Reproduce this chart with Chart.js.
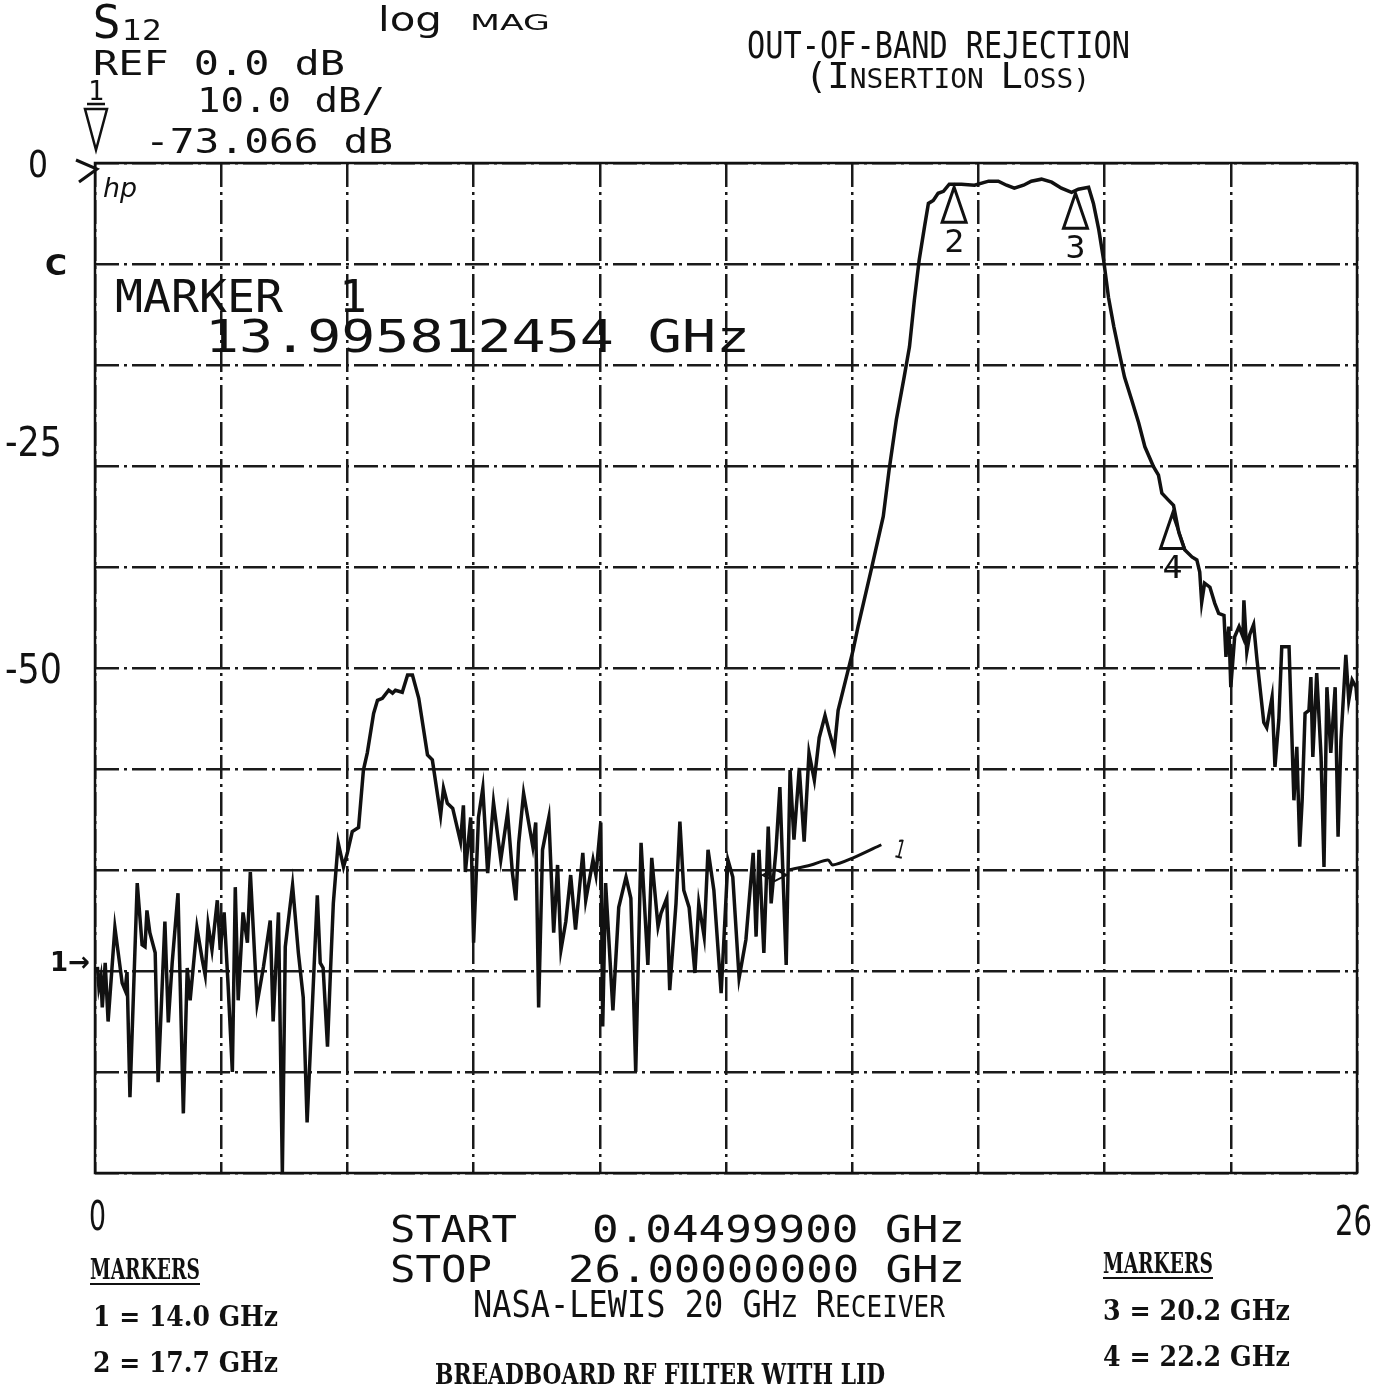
<!DOCTYPE html>
<html lang="en">
<head>
<meta charset="UTF-8">
<title>S12 log MAG - Out-of-band rejection</title>
<script src="https://cdn.jsdelivr.net/npm/chart.js"></script>
<style>
    body {
        margin: 0;
        padding: 0;
        background: #fff;
    }
    #wrap {
        width: 1375px;
        height: 1389px;
    }
</style>
</head>
<body>
<div id="wrap"><canvas id="s12Chart" width="1375" height="1389"></canvas></div>
<script>
// sweep points (GHz / dB)
const freqGHz = [
    0.05,0.08,0.12,0.15,0.21,0.27,0.41,0.56,0.62,0.66,
    0.72,0.87,0.97,1.03,1.07,1.13,1.24,1.30,1.44,1.51,
    1.59,1.71,1.82,1.90,1.96,2.10,2.21,2.27,2.33,2.41,
    2.52,2.58,2.66,2.74,2.83,2.89,2.95,3.05,3.14,3.20,
    3.34,3.47,3.61,3.67,3.78,3.86,3.92,4.07,4.19,4.29,
    4.37,4.58,4.64,4.70,4.79,4.85,4.91,5.01,5.12,5.20,
    5.30,5.43,5.53,5.61,5.74,5.82,5.92,6.05,6.13,6.19,
    6.33,6.44,6.54,6.67,6.85,6.95,7.12,7.18,7.26,7.37,
    7.53,7.59,7.63,7.74,7.80,7.90,7.99,8.09,8.21,8.36,
    8.50,8.60,8.67,8.73,8.83,9.02,9.08,9.14,9.22,9.35,
    9.45,9.53,9.60,9.70,9.80,9.90,10.05,10.11,10.26,10.32,
    10.42,10.46,10.52,10.67,10.79,10.94,11.04,11.14,11.25,11.39,
    11.47,11.60,11.66,11.78,11.84,11.97,12.05,12.13,12.24,12.36,
    12.44,12.55,12.63,12.75,12.90,12.96,13.04,13.14,13.27,13.41,
    13.56,13.62,13.68,13.78,13.87,13.93,14.03,14.11,14.24,14.32,
    14.40,14.51,14.61,14.71,14.82,14.92,15.04,15.13,15.23,15.31,
    15.48,15.62,15.72,15.99,16.24,16.36,16.51,16.67,16.78,16.88,
    16.98,17.09,17.17,17.27,17.37,17.48,17.60,17.85,18.12,18.41,
    18.61,18.78,18.94,19.13,19.29,19.50,19.71,19.91,20.12,20.26,
    20.47,20.57,20.68,20.78,20.88,20.99,21.09,21.21,21.36,21.50,
    21.63,21.81,21.91,21.98,22.12,22.22,22.33,22.45,22.60,22.70,
    22.76,22.80,22.86,22.97,23.07,23.15,23.26,23.30,23.36,23.40,
    23.48,23.57,23.65,23.67,23.73,23.79,23.87,23.94,24.08,24.14,
    24.25,24.31,24.39,24.45,24.60,24.70,24.76,24.82,24.87,24.93,
    25.01,25.05,25.09,25.17,25.26,25.32,25.38,25.46,25.55,25.61,
    25.67,25.77,25.83,25.90,25.98,26.00
];
const s12dB = [
    -79.6,-81.6,-80.6,-83.6,-79.2,-85.0,-75.7,-81.2,-81.9,-80.1,
    -92.5,-71.3,-77.4,-77.6,-74.0,-76.2,-78.2,-91.0,-75.1,-85.1,
    -79.2,-72.3,-94.1,-79.7,-82.9,-75.7,-78.9,-80.4,-75.4,-77.9,
    -73.0,-77.9,-74.2,-81.2,-90.0,-71.7,-82.9,-74.2,-77.2,-70.2,
    -83.2,-79.6,-75.0,-85.0,-74.2,-100,-77.6,-71.5,-78.2,-82.6,
    -95.0,-72.5,-79.2,-79.7,-87.5,-80.2,-73.3,-67.3,-69.7,-68.3,
    -66.2,-65.8,-60.1,-58.4,-54.5,-53.2,-53.0,-52.2,-52.5,-52.2,
    -52.4,-50.7,-50.7,-53.0,-58.6,-59.1,-64.6,-61.9,-63.4,-63.9,
    -67.2,-63.6,-70.2,-64.8,-77.2,-64.8,-61.9,-70.3,-63.3,-69.0,
    -64.3,-70.3,-73.0,-67.3,-62.4,-67.7,-65.3,-83.6,-68.0,-64.8,
    -76.2,-69.5,-77.9,-75.1,-70.5,-75.9,-68.3,-73.0,-69.0,-70.5,
    -65.3,-85.5,-71.3,-83.9,-73.7,-70.7,-72.8,-90.0,-67.3,-79.4,
    -68.8,-75.6,-74.3,-72.8,-81.9,-73.3,-65.2,-72.0,-73.7,-80.2,
    -73.3,-76.6,-68.0,-72.0,-82.2,-76.6,-69.0,-70.7,-80.7,-76.9,
    -68.3,-76.6,-68.0,-78.2,-65.7,-73.3,-68.0,-61.8,-79.4,-60.1,
    -67.0,-59.9,-67.2,-58.4,-61.1,-56.9,-54.7,-56.4,-58.1,-54.2,
    -50.9,-48.2,-45.9,-40.3,-35.0,-30.4,-25.4,-21.2,-18.2,-13.6,
    -9.6,-6.3,-4.0,-3.7,-3.0,-2.8,-2.1,-2.1,-2.2,-1.8,
    -1.8,-2.2,-2.5,-2.2,-1.8,-1.6,-1.9,-2.5,-2.9,-2.6,
    -2.4,-4.0,-6.6,-9.6,-13.3,-16.2,-18.5,-21.2,-23.5,-25.7,
    -28.1,-30.1,-30.9,-32.7,-33.4,-33.9,-36.6,-38.3,-39.0,-39.3,
    -40.5,-43.5,-41.6,-42.0,-43.6,-44.6,-44.8,-48.9,-45.9,-51.9,
    -46.9,-45.9,-46.9,-43.3,-48.4,-46.7,-45.7,-49.2,-55.4,-55.9,
    -52.9,-59.8,-55.1,-47.9,-47.9,-63.1,-57.8,-67.7,-63.1,-54.5,
    -54.2,-50.9,-58.8,-50.5,-58.8,-69.7,-51.9,-58.4,-51.9,-66.7,
    -57.1,-48.7,-53.2,-51.2,-51.9,-53.2
];

// analyzer markers 2..4 drawn as triangles on the trace
const markerNames = ['2', '3', '4'];
const markerGHz = [17.7, 20.2, 22.2];
const markerDb = [-2.1, -2.7, -34.4];

// hand drawn arrow pointing at marker 1
const arrowGHz = [14.28, 14.75, 15.10, 15.20, 15.62, 16.20];
const arrowDb = [-70.0, -69.5, -69.0, -69.5, -68.8, -67.5];

// grid: 10 divisions each way, 10 dB/div from REF 0 dB
const xGridGHz = [0, 2.6, 5.2, 7.8, 10.4, 13.0, 15.6, 18.2, 20.8, 23.4, 26.0];
const yGridDb = [0, -10, -20, -30, -40, -50, -60, -70, -80, -90, -100];

// hand written labels along the left edge and under the grid
const yLabelDb = [0, -10, -27.5, -50, -79];
const yLabelText = ['0', 'C', '-25', '-50', '1\u2192'];
const xLabelGHz = [0, 26];
const xLabelText = ['0', '26'];

const MONO = '"DejaVu Sans Mono", monospace';
const SANS = '"DejaVu Sans", sans-serif';
const SERIF = '"DejaVu Serif", serif';

// draw text squeezed/stretched to a given width
function put(ctx, s, x, y, size, w, font, weight) {
    ctx.save();
    ctx.font = (weight || 'normal') + ' ' + size + 'px ' + font;
    const m = ctx.measureText(s).width;
    ctx.translate(x, y);
    if (w) ctx.scale(w / m, 1);
    ctx.fillText(s, 0, 0);
    ctx.restore();
}

// small caps: parts = [[text, big?], ...]
function putSC(ctx, parts, x, y, big, small, w, font) {
    ctx.save();
    let total = 0;
    const widths = parts.map(p => {
        ctx.font = (p[1] ? big : small) + 'px ' + font;
        const m = ctx.measureText(p[0]).width;
        total += m;
        return m;
    });
    ctx.translate(x, y);
    ctx.scale(w / total, 1);
    let cx = 0;
    parts.forEach((p, i) => {
        ctx.font = (p[1] ? big : small) + 'px ' + font;
        ctx.fillText(p[0], cx, 0);
        cx += widths[i];
    });
    ctx.restore();
}

const decorations = {
    id: 'decorations',
    beforeDatasetsDraw(chart) {
        const { ctx, chartArea: a } = chart;
        ctx.save();
        ctx.strokeStyle = '#111';
        ctx.lineWidth = 2.5;
        ctx.strokeRect(a.left, a.top, a.right - a.left, a.bottom - a.top);
        ctx.restore();
    },
    afterDraw(chart) {
        const { ctx, chartArea: a } = chart;
        const xs = chart.scales.x, ys = chart.scales.y;
        ctx.save();
        ctx.fillStyle = '#111';
        ctx.strokeStyle = '#111';
        ctx.textBaseline = 'alphabetic';

        // header block
        put(ctx, 'S', 93, 38, 46, 27, SANS);
        put(ctx, '12', 122, 40, 28, 40, SANS);
        put(ctx, 'log', 378, 31, 34, 64, SANS);
        put(ctx, 'MAG', 470, 30, 21, 80, SANS);
        put(ctx, 'REF 0.0 dB', 93, 75, 33, 252, MONO);
        put(ctx, '1', 88, 100, 27, 16, MONO);
        ctx.lineWidth = 2.5;
        ctx.beginPath();
        ctx.moveTo(87, 104); ctx.lineTo(105, 104);
        ctx.moveTo(85, 109); ctx.lineTo(107, 109); ctx.lineTo(96, 150); ctx.closePath();
        ctx.stroke();
        put(ctx, '10.0 dB/', 197, 112, 33, 188, MONO);
        put(ctx, '-73.066 dB', 145, 153, 33, 248, MONO);

        put(ctx, 'OUT-OF-BAND REJECTION', 747, 58, 38, 383, MONO);
        putSC(ctx, [['(I', true], ['NSERTION ', false], ['L', true], ['OSS)', false]],
            805, 88, 36, 27, 285, MONO);

        // left edge labels
        yLabelText.forEach((t, i) => {
            const py = ys.getPixelForValue(yLabelDb[i]);
            if (t === '0') put(ctx, t, 28, py + 14, 37, 20, SANS);
            else if (t === '1\u2192') put(ctx, t, 50, py + 10, 27, 40, SANS, 'bold');
            else if (t === 'C') put(ctx, t, 45, py + 11, 28, 22, SANS, 'bold');
            else put(ctx, t, 5, py + 15, 40, 57, SANS);
        });

        // reference arrow and hp logo
        ctx.lineWidth = 3;
        ctx.beginPath();
        ctx.moveTo(76, 160); ctx.lineTo(a.left + 2, a.top + 6); ctx.lineTo(79, 182);
        ctx.stroke();
        put(ctx, 'hp', 103, 197, 26, 34, SANS, 'italic');

        // marker readout
        put(ctx, 'MARKER  1', 115, 312, 44, 252, MONO);
        put(ctx, '13.995812454 GHz', 205, 352, 44, 545, MONO);

        // markers on trace
        ctx.lineWidth = 3;
        markerNames.forEach((n, i) => {
            const px = xs.getPixelForValue(markerGHz[i]);
            const py = ys.getPixelForValue(markerDb[i]);
            ctx.beginPath();
            ctx.moveTo(px, py + 3);
            ctx.lineTo(px + 12, py + 38);
            ctx.lineTo(px - 12, py + 38);
            ctx.closePath();
            ctx.stroke();
            put(ctx, n, px - 10, py + 68, 32, 20, MONO);
        });

        // small diamond of the active marker 1
        const m1x = xs.getPixelForValue(14.0), m1y = ys.getPixelForValue(-70.5);
        ctx.lineWidth = 2;
        ctx.beginPath();
        ctx.moveTo(m1x - 12, m1y); ctx.lineTo(m1x, m1y - 6);
        ctx.lineTo(m1x + 12, m1y); ctx.lineTo(m1x, m1y + 6); ctx.closePath();
        ctx.stroke();

        // hand written "1" at the end of the arrow
        const ax = xs.getPixelForValue(arrowGHz[arrowGHz.length - 1]);
        const ay = ys.getPixelForValue(arrowDb[arrowDb.length - 1]);
        ctx.save();
        ctx.translate(ax + 12, ay + 12);
        ctx.rotate(0.25);
        put(ctx, '1', 0, 0, 26, 10, SANS);
        ctx.restore();

        // axis end labels
        xLabelText.forEach((t, i) => {
            const px = xs.getPixelForValue(xLabelGHz[i]);
            if (i === 0) put(ctx, t, px - 6, a.bottom + 57, 40, 17, SANS);
            else put(ctx, t, px - 22, a.bottom + 62, 40, 37, SANS);
        });

        // sweep info
        put(ctx, 'START', 390, 1242, 37, 127, MONO);
        put(ctx, '0.04499900 GHz', 592, 1242, 37, 373, MONO);
        put(ctx, 'STOP', 390, 1282, 37, 102, MONO);
        put(ctx, '26.00000000 GHz', 568, 1282, 37, 397, MONO);
        ctx.lineWidth = 1.2;
        putSC(ctx, [['NASA-LEWIS 20 GH', true], ['Z', false], [' R', true], ['ECEIVER', false]],
            473, 1317, 38, 31, 472, MONO);
        put(ctx, 'BREADBOARD RF FILTER WITH LID', 435, 1384, 28, 450, SERIF, 'bold');

        // marker frequency lists
        put(ctx, 'MARKERS', 90, 1279, 27, 110, SERIF, 'bold');
        put(ctx, 'MARKERS', 1103, 1273, 27, 110, SERIF, 'bold');
        ctx.lineWidth = 2;
        ctx.beginPath();
        ctx.moveTo(90, 1284); ctx.lineTo(200, 1284);
        ctx.moveTo(1103, 1278); ctx.lineTo(1213, 1278);
        ctx.stroke();
        put(ctx, '1 = 14.0 GHz', 93, 1326, 28, 185, SERIF, 'bold');
        put(ctx, '2 = 17.7 GHz', 93, 1372, 28, 185, SERIF, 'bold');
        put(ctx, '3 = 20.2 GHz', 1103, 1320, 28, 187, SERIF, 'bold');
        put(ctx, '4 = 22.2 GHz', 1103, 1366, 28, 187, SERIF, 'bold');
        ctx.restore();
    }
};

const ctx = document.getElementById('s12Chart').getContext('2d');
new Chart(ctx, {
    type: 'line',
    data: {
        datasets: [{
            label: 'S12',
            data: freqGHz.map((f, i) => ({ x: f, y: s12dB[i] })),
            borderColor: '#111',
            borderWidth: 3.5,
            pointRadius: 0,
            tension: 0,
            fill: false
        }, {
            label: 'marker 1 note',
            data: arrowGHz.map((f, i) => ({ x: f, y: arrowDb[i] })),
            borderColor: '#111',
            borderWidth: 3,
            pointRadius: 0,
            tension: 0.3,
            fill: false
        }]
    },
    options: {
        responsive: false,
        animation: false,
        devicePixelRatio: 1,
        layout: { padding: { left: 95, right: 18, top: 163, bottom: 216 } },
        plugins: {
            legend: { display: false },
            tooltip: { enabled: false }
        },
        scales: {
            x: {
                type: 'linear',
                min: 0,
                max: 26,
                afterBuildTicks: scale => { scale.ticks = xGridGHz.map(v => ({ value: v })); },
                ticks: { display: false },
                grid: { color: '#1a1a1a', lineWidth: 2.5, drawTicks: false },
                border: { display: false, dash: [24, 5, 3, 5] }
            },
            y: {
                type: 'linear',
                min: -100,
                max: 0,
                afterBuildTicks: scale => { scale.ticks = yGridDb.map(v => ({ value: v })); },
                ticks: { display: false },
                grid: { color: '#1a1a1a', lineWidth: 2.5, drawTicks: false },
                border: { display: false, dash: [24, 5, 3, 5] }
            }
        }
    },
    plugins: [decorations]
});
</script>
</body>
</html>
